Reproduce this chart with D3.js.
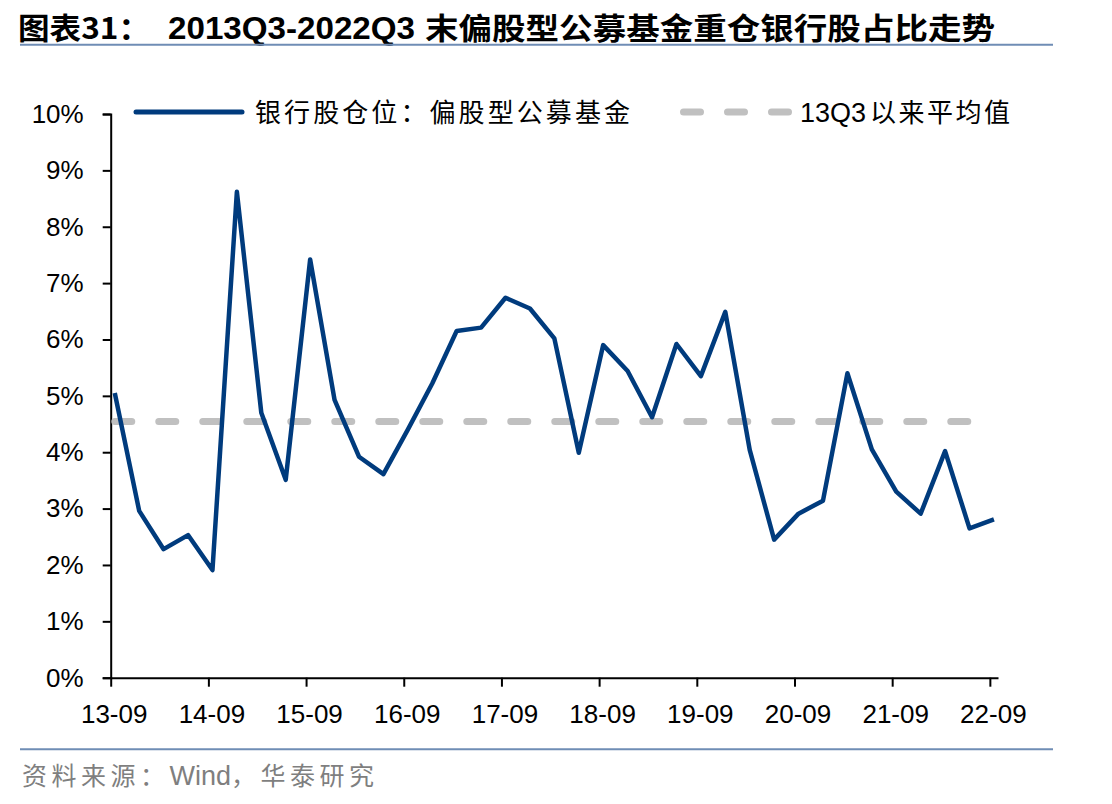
<!DOCTYPE html>
<html>
<head>
<meta charset="utf-8">
<script src="https://cdn.jsdelivr.net/npm/d3@7"></script>
<style>
  body { margin: 0; background: #fff; }
  svg { display: block; }
</style>
</head>
<body>
<script>
// Quarter ends, 13Q3 .. 22Q3
var quarters = ["2013-09","2013-12","2014-03","2014-06","2014-09","2014-12","2015-03","2015-06",
  "2015-09","2015-12","2016-03","2016-06","2016-09","2016-12","2017-03","2017-06","2017-09",
  "2017-12","2018-03","2018-06","2018-09","2018-12","2019-03","2019-06","2019-09","2019-12",
  "2020-03","2020-06","2020-09","2020-12","2021-03","2021-06","2021-09","2021-12","2022-03",
  "2022-06","2022-09"];

// Bank stock weight in active equity funds (%)
var bankShare = [5.05, 2.96, 2.28, 2.53, 1.91, 8.62, 4.70, 3.51, 7.42, 4.93, 3.92, 3.61, 4.40,
  5.22, 6.15, 6.21, 6.74, 6.55, 6.02, 3.99, 5.90, 5.44, 4.62, 5.92, 5.35, 6.49, 4.04, 2.45,
  2.91, 3.14, 5.40, 4.05, 3.30, 2.91, 4.02, 2.65, 2.81];

var xTickLabels = ["13-09","14-09","15-09","16-09","17-09","18-09","19-09","20-09","21-09","22-09"];
var yTicks = [0, 1, 2, 3, 4, 5, 6, 7, 8, 9, 10];

var seriesNames = ["银行股仓位：偏股型公募基金", "13Q3", "以来平均值"];

var blue = "#003b7d";
var grey = "#c0c0c0";
var ruleColor = "#6f8db5";
var latin = "'Liberation Sans', Arial, 'Noto Sans CJK SC', sans-serif";
var cjk = "'Noto Sans CJK SC', 'Liberation Sans', sans-serif";

// months since 2013-09, point sits in the middle of its month slot
function monthIndex(s) {
  var p = s.split("-");
  return (+p[0] - 2013) * 12 + (+p[1] - 9);
}

var data = quarters.map(function(q, i) {
  return { m: monthIndex(q) + 0.5, v: bankShare[i] };
});
var avg = d3.mean(bankShare);

var svg = d3.select("body").append("svg")
    .attr("width", 1112)
    .attr("height", 804);

var x = d3.scaleLinear().domain([0, 109]).range([110.7, 998]);
var y = d3.scaleLinear().domain([0, 10]).range([677.7, 114]);

/*
  TITLE + RULES
*/
svg.append("text")
    .attr("x", 18).attr("y", 39)
    .attr("textLength", 132).attr("lengthAdjust", "spacingAndGlyphs")
    .style("font-family", cjk).style("font-weight", "bold").style("font-size", "30px")
    .text("图表31：");

svg.append("text")
    .attr("x", 168).attr("y", 39)
    .attr("textLength", 247).attr("lengthAdjust", "spacingAndGlyphs")
    .style("font-family", latin).style("font-weight", "bold").style("font-size", "32px")
    .text("2013Q3-2022Q3");

svg.append("text")
    .attr("x", 425).attr("y", 39)
    .attr("textLength", 570).attr("lengthAdjust", "spacingAndGlyphs")
    .style("font-family", cjk).style("font-weight", "bold").style("font-size", "30px")
    .text("末偏股型公募基金重仓银行股占比走势");

svg.append("line")
    .attr("x1", 20).attr("x2", 1053).attr("y1", 44.7).attr("y2", 44.7)
    .style("stroke", ruleColor).style("stroke-width", 2);

svg.append("line")
    .attr("x1", 20).attr("x2", 1053).attr("y1", 749.3).attr("y2", 749.3)
    .style("stroke", ruleColor).style("stroke-width", 2);

// source note, CJK spaced out, Latin tight
var src = svg.append("text")
    .attr("x", 22).attr("y", 785)
    .style("fill", "#7f7f7f");
src.append("tspan")
    .style("font-family", cjk).style("font-size", "25px").style("letter-spacing", "4.5px")
    .text("资料来源：");
src.append("tspan")
    .style("font-family", latin).style("font-size", "27px")
    .text("Wind");
src.append("tspan")
    .style("font-family", cjk).style("font-size", "25px").style("letter-spacing", "4.5px")
    .text("，华泰研究");

/*
  AXES
*/
var yAxis = svg.append("g")
    .attr("transform", "translate(" + x(0) + ",0)")
    .call(d3.axisLeft(y).tickValues(yTicks).tickSize(8).tickPadding(19)
      .tickFormat(function(d) { return d + "%"; }));

var xAxis = svg.append("g")
    .attr("transform", "translate(0," + y(0) + ")")
    .call(d3.axisBottom(x).tickValues(d3.range(0, 109, 12)).tickSize(9).tickPadding(18)
      .tickSizeOuter(0)
      .tickFormat(function(d, i) { return xTickLabels[i]; }));

xAxis.selectAll("text").attr("dx", 3);

[yAxis, xAxis].forEach(function(g) {
  g.selectAll("path, line").style("stroke", "#000").style("stroke-width", 2);
  g.selectAll("text")
      .style("font-family", latin)
      .style("font-size", "26px")
      .style("fill", "#000");
});

/*
  SERIES
*/
svg.append("line")
    .attr("x1", x(data[0].m)).attr("x2", x(data[data.length - 1].m))
    .attr("y1", y(avg)).attr("y2", y(avg))
    .style("stroke", grey)
    .style("stroke-width", 7)
    .style("stroke-linecap", "round")
    .style("stroke-dasharray", "17,27");

var line = d3.line()
    .x(function(d) { return x(d.m); })
    .y(function(d) { return y(d.v); });

svg.append("path")
    .datum(data)
    .attr("d", line)
    .style("fill", "none")
    .style("stroke", blue)
    .style("stroke-width", 4.5)
    .style("stroke-linejoin", "round");

/*
  LEGEND
*/
svg.append("line")
    .attr("x1", 136).attr("x2", 242).attr("y1", 112).attr("y2", 112)
    .style("stroke", blue).style("stroke-width", 5).style("stroke-linecap", "round");

svg.append("text")
    .attr("x", 255).attr("y", 122)
    .attr("textLength", 375).attr("lengthAdjust", "spacing")
    .style("font-family", cjk).style("font-size", "26px")
    .text(seriesNames[0]);

svg.append("line")
    .attr("x1", 683.5).attr("x2", 789).attr("y1", 112).attr("y2", 112)
    .style("stroke", grey).style("stroke-width", 7)
    .style("stroke-linecap", "round").style("stroke-dasharray", "17,27");

var leg2 = svg.append("text")
    .attr("x", 800).attr("y", 122);
leg2.append("tspan")
    .style("font-family", latin).style("font-size", "27px")
    .text(seriesNames[1]);
leg2.append("tspan")
    .attr("dx", 4)
    .style("font-family", cjk).style("font-size", "26px").style("letter-spacing", "2.5px")
    .text(seriesNames[2]);
</script>
</body>
</html>
